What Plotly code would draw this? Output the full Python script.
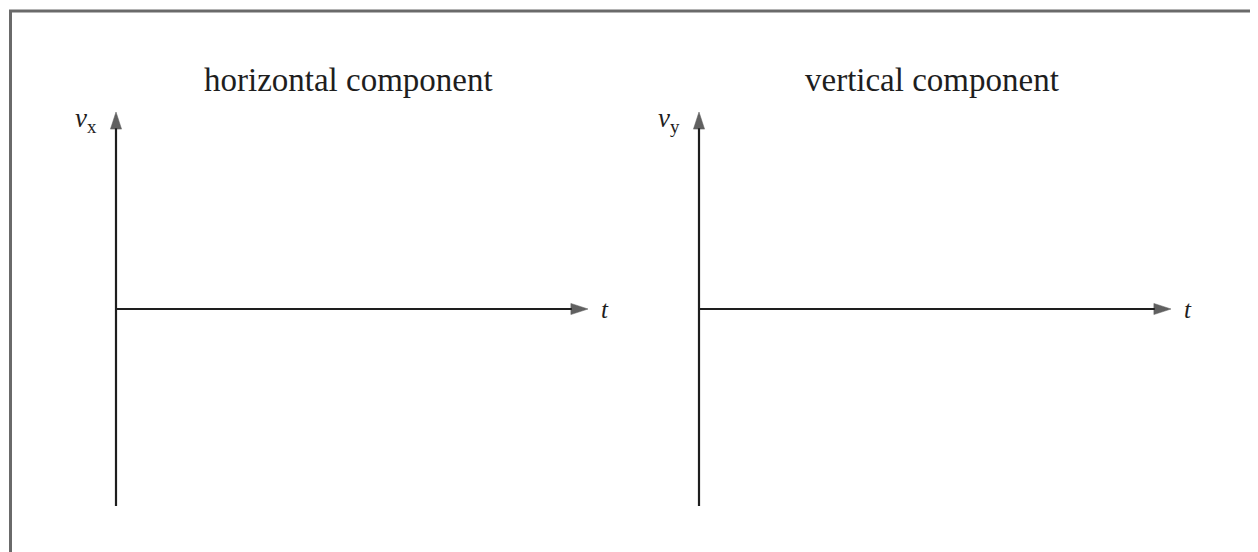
import plotly.graph_objects as go

W, H = 1258, 552
OFF = 8  # page body margin offset in the screenshot

# ---- chart content ----
panel_titles = ["horizontal component", "vertical component"]
y_labels = ["<i>v</i><sub>x</sub>", "<i>v</i><sub>y</sub>"]
x_label = "<i>t</i>"
t_range = [0, 1]
v_range = [-1, 1]

# pixel layout in the target picture
panel_left_px = [116, 699]
panel_right_px = [588, 1171]
title_cx_px = [348, 932]
top_px, bottom_px = 112, 506
PAD = 0.05  # padding of axis ranges so lines are not clipped

ink = "#1e1e1e"
serif = "Liberation Serif, Times New Roman, serif"


def px_x(p):
    return (p - OFF) / W


def px_y(p):
    return 1 - (p - OFF) / H


fig = go.Figure()
layout = dict(
    width=W, height=H, margin=dict(l=0, r=0, t=0, b=0),
    paper_bgcolor="white", plot_bgcolor="white", showlegend=False,
)

annotations = []
for i in range(2):
    xa = "x" if i == 0 else "x2"
    ya = "y" if i == 0 else "y2"
    xkey = "xaxis" if i == 0 else "xaxis2"
    ykey = "yaxis" if i == 0 else "yaxis2"
    ux = (panel_right_px[i] - panel_left_px[i]) / (t_range[1] - t_range[0])
    uy = (bottom_px - top_px) / (v_range[1] - v_range[0])
    layout[xkey] = dict(domain=[px_x(panel_left_px[i] - PAD * ux), px_x(panel_right_px[i] + PAD * ux)],
                        range=[t_range[0] - PAD, t_range[1] + PAD],
                        visible=False, anchor=ya, fixedrange=True)
    layout[ykey] = dict(domain=[px_y(bottom_px + PAD * uy), px_y(top_px - PAD * uy)],
                        range=[v_range[0] - PAD, v_range[1] + PAD],
                        visible=False, anchor=xa, fixedrange=True)
    # vertical axis line with arrowhead at top
    fig.add_trace(go.Scatter(x=[t_range[0], t_range[0]], y=[v_range[0], v_range[1]],
                             mode="lines+markers", line=dict(color=ink, width=2.2),
                             marker=dict(symbol="arrow", size=[0, 18], angleref="previous",
                                         color=ink, line=dict(width=0.5, color=ink)),
                             hoverinfo="skip", cliponaxis=False, xaxis=xa, yaxis=ya))
    # horizontal axis line with arrowhead at right
    fig.add_trace(go.Scatter(x=[t_range[0], t_range[1]], y=[0, 0],
                             mode="lines+markers", line=dict(color=ink, width=2.2),
                             marker=dict(symbol="arrow", size=[0, 18], angleref="previous",
                                         color=ink, line=dict(width=0.5, color=ink)),
                             hoverinfo="skip", cliponaxis=False, xaxis=xa, yaxis=ya))
    # t label
    annotations.append(dict(x=t_range[1], y=0, xref=xa, yref=ya, text=x_label,
                            showarrow=False, xanchor="left", xshift=11,
                            font=dict(family=serif, size=25, color=ink)))
    # v label
    annotations.append(dict(x=t_range[0], y=v_range[1], xref=xa, yref=ya,
                            text=y_labels[i], showarrow=False,
                            xanchor="right", yanchor="middle",
                            xshift=-17, yshift=-8,
                            font=dict(family=serif, size=27, color=ink)))
    # panel title
    annotations.append(dict(x=px_x(title_cx_px[i]), y=px_y(80), xref="paper", yref="paper",
                            text=panel_titles[i], showarrow=False,
                            xanchor="center", yanchor="middle",
                            font=dict(family=serif, size=33, color=ink)))

layout["annotations"] = annotations
layout["shapes"] = [dict(type="rect", xref="paper", yref="paper",
                         x0=px_x(10.5), x1=1.05, y0=-0.05, y1=px_y(11),
                         line=dict(color="#6a6a6a", width=3),
                         fillcolor="rgba(0,0,0,0)", layer="above")]
fig.update_layout(**layout)
fig.write_html("out.html")
